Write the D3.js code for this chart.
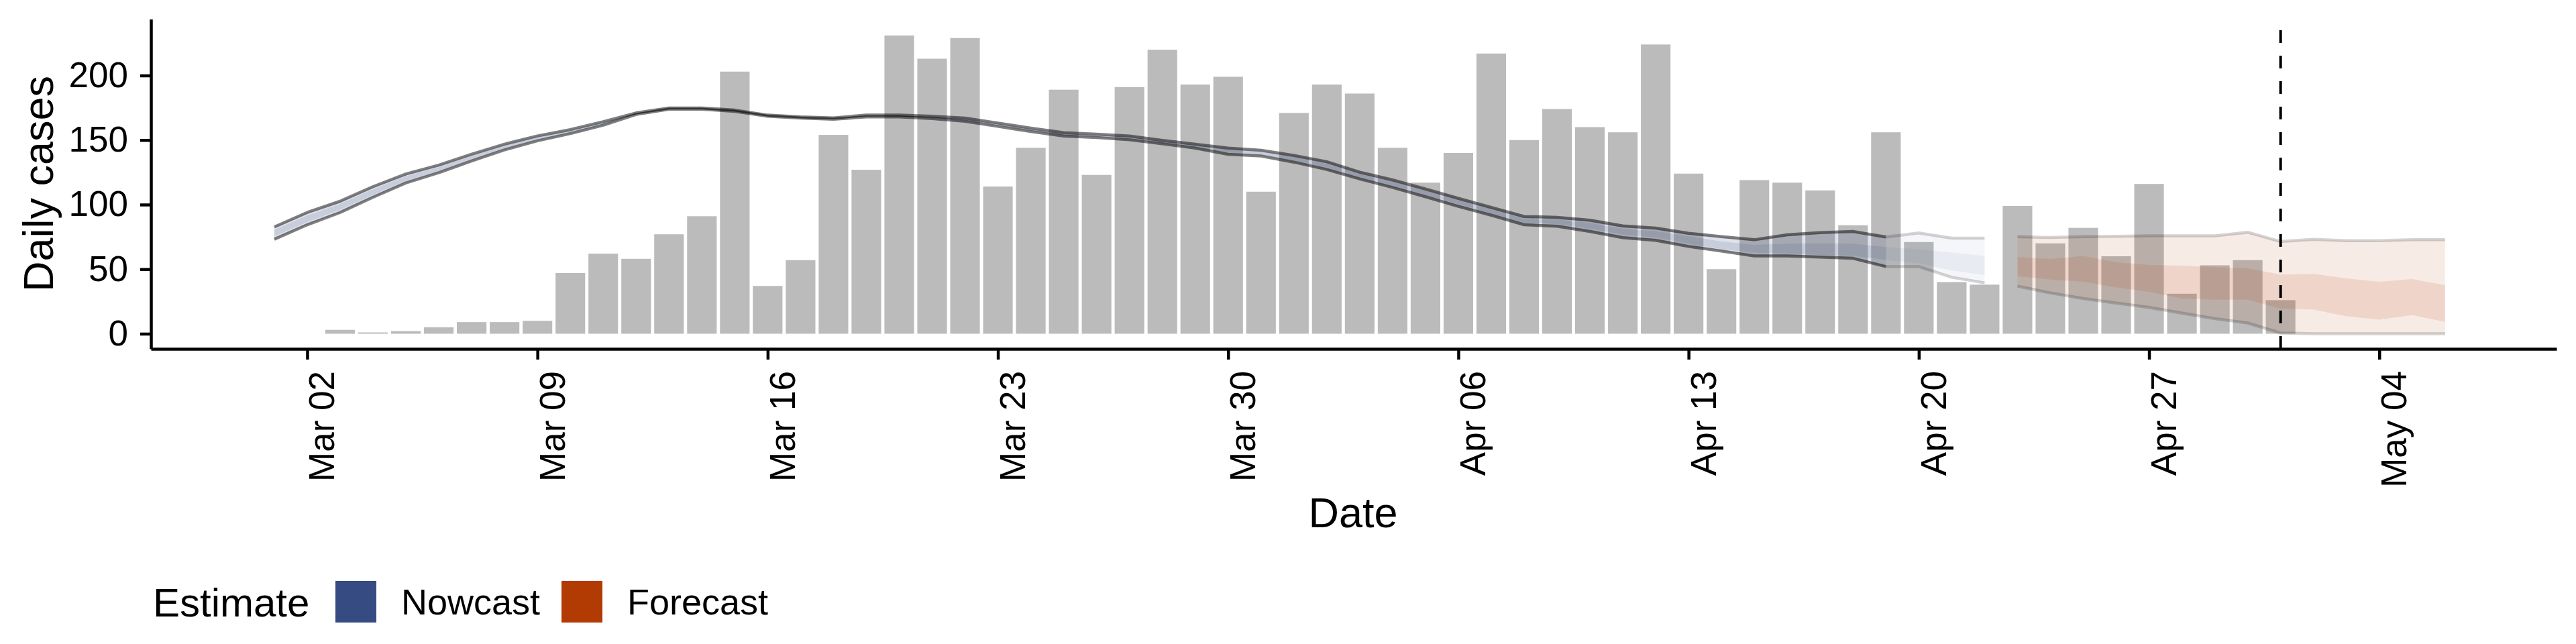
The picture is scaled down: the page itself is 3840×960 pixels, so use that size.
<!DOCTYPE html>
<html><head><meta charset="utf-8">
<script src="https://cdn.jsdelivr.net/npm/d3@7"></script>
<style>
body{margin:0;background:#fff}
svg{display:block}
text{font-family:"Liberation Sans",Arial,Helvetica,sans-serif;fill:#000}
</style>
</head><body>
<svg id="chart" width="3840" height="960"></svg>
<script>
// ---------------- DATA ----------------
const caseStart = "2020-03-03";
const dailyCases = [3,1,2,5,9,9,10,47,62,58,77,91,203,37,57,154,127,231,213,229,114,144,189,123,191,220,193,199,110,
  171,193,186,144,117,140,217,150,174,160,156,224,124,50,119,117,111,84,156,71,40,38,99,70,82,60,116,31,53,57,26];

const nowcastStart = "2020-03-01";
const partialFrom = "2020-04-19";
const nowUpper90 = [82.7,93.9,102.6,113.9,123.7,130.6,139.0,146.8,153.2,158.1,164.2,171.0,174.8,174.8,173.2,169.3,167.9,167.2,169.3,169.3,168.4,167.0,163.2,159.2,155.7,154.5,153.1,149.7,146.8,143.8,142.1,
  138.1,133.2,125.1,119.1,112.1,104.8,97.8,90.8,90.1,87.9,83.5,81.8,77.8,75.2,72.8,76.6,78.3,79.2,74.9,78.0,74.0,74.0];
const nowLower90 = [73.2,84.4,93.9,105.7,116.8,124.7,133.8,142.4,149.4,155.0,161.5,169.8,173.9,173.9,172.2,168.4,167.0,166.1,167.9,167.9,166.6,164.6,160.6,156.6,153.1,151.9,150.2,147.1,143.8,139.0,137.7,
  132.9,127.2,119.9,113.3,106.1,98.6,91.8,84.4,83.2,79.2,74.4,72.3,67.6,64.0,60.2,60.2,59.3,58.4,52.0,52.0,43.7,39.4];
const nowUpper50 = [80.5,91.5,100.5,112.0,122.0,129.0,137.7,145.7,152.2,157.3,163.5,170.7,174.6,174.6,173.0,169.1,167.7,166.9,168.9,168.9,168.0,166.4,162.6,158.6,155.0,153.8,152.4,149.0,146.0,142.6,141.0,
  136.8,131.7,123.8,117.6,110.6,103.2,96.3,89.2,88.4,85.7,81.2,79.5,75.5,71.4,68.8,69.7,70.0,69.7,67.1,65.4,62.8,60.2];
const nowLower50 = [75.5,86.5,96.0,107.5,118.5,126.0,135.0,143.5,150.4,155.8,162.2,170.1,174.1,174.1,172.4,168.6,167.2,166.4,168.3,168.3,167.0,165.2,161.2,157.2,153.7,152.5,150.9,147.8,144.6,140.2,138.8,
  134.2,128.7,121.2,114.8,107.6,100.2,93.3,86.0,84.9,81.4,76.7,74.5,69.8,65.4,62.8,62.0,61.1,60.2,57.2,54.6,48.9,45.5];

const forecastStart = "2020-04-23";
const fcUpper90 = [75.2,74.5,75.2,75.4,75.8,75.8,75.8,78.6,71.4,73.1,72.1,72.1,72.8,72.8];
const fcLower90 = [36.8,31.6,27.3,23.8,20.4,16.0,11.7,8.3,0.5,0,0,0,0,0];
const fcUpper50 = [59.3,57.9,60.2,55.5,53.2,52.7,51.5,50.6,45.8,46.3,42.9,40.3,42.3,37.7];
const fcLower50 = [44.6,42.0,40.3,35.9,32.5,27.3,26.4,26.4,19.5,18.7,13.5,10.9,14.4,9.2];

const yTicks = [0,50,100,150,200];
const xTickDates = ["2020-03-02","2020-03-09","2020-03-16","2020-03-23","2020-03-30","2020-04-06","2020-04-13","2020-04-20","2020-04-27","2020-05-04"];
const estimateDate = "2020-05-01";
const legendTitle = "Estimate";
const legendLabels = ["Nowcast","Forecast"];
const legendColors = ["#364b82","#b23a03"];

// ---------------- SETUP ----------------
const parse = d3.utcParse("%Y-%m-%d");
const DAY = 864e5;
const svg = d3.select("#chart");
const ref = parse("2020-03-02");
const x = d3.scaleUtc()
  .domain([new Date(+ref - 4.752*DAY), new Date(+ref + 68.39*DAY)])
  .range([225, 3811]);
const y = d3.scaleLinear().domain([-11.7, 243.6]).range([520, 28.6]);

const cases = dailyCases.map((v,i)=>({date:d3.utcDay.offset(parse(caseStart), i), value:v}));
const nowcast = nowUpper90.map((v,i)=>({date:d3.utcDay.offset(parse(nowcastStart), i),
  u90:v, l90:nowLower90[i], u50:nowUpper50[i], l50:nowLower50[i]}));
const forecast = fcUpper90.map((v,i)=>({date:d3.utcDay.offset(parse(forecastStart), i),
  u90:v, l90:fcLower90[i], u50:fcUpper50[i], l50:fcLower50[i]}));
const pf = +parse(partialFrom);
const estimate = nowcast.filter(d => +d.date <= pf);
const partial = nowcast.filter(d => +d.date >= pf);

// bars
const bw = 0.9*(x(d3.utcDay.offset(ref,1)) - x(ref));
svg.append("g").selectAll("rect").data(cases).join("rect")
  .attr("x", d => x(d.date) - bw/2)
  .attr("width", bw)
  .attr("y", d => y(d.value))
  .attr("height", d => y(0) - y(d.value))
  .attr("fill", "#bbbbbb");

// ribbons
function ribbon(data, color, a90, a50, lineOp){
  const g = svg.append("g");
  g.append("path").datum(data)
    .attr("d", d3.area().x(d=>x(d.date)).y0(d=>y(d.l90)).y1(d=>y(d.u90)))
    .attr("fill", color).attr("fill-opacity", a90);
  g.append("path").datum(data)
    .attr("d", d3.area().x(d=>x(d.date)).y0(d=>y(d.l50)).y1(d=>y(d.u50)))
    .attr("fill", color).attr("fill-opacity", a50);
  ["u90","l90"].forEach(k=>{
    g.append("path").datum(data)
      .attr("d", d3.line().x(d=>x(d.date)).y(d=>y(d[k])))
      .attr("fill","none").attr("stroke","#000").attr("stroke-opacity", lineOp)
      .attr("stroke-width", 4.5).attr("stroke-linejoin","round");
  });
}
ribbon(estimate, legendColors[0], 0.16, 0.14, 0.5);
ribbon(partial, legendColors[0], 0.05, 0.06, 0.17);
ribbon(forecast, legendColors[1], 0.1, 0.12, 0.17);

// dashed vertical line at estimate date
svg.append("line")
  .attr("x1", x(parse(estimateDate))).attr("x2", x(parse(estimateDate)))
  .attr("y1", 520).attr("y2", 28.6)
  .attr("stroke","#000").attr("stroke-width",4).attr("stroke-dasharray","19,19");

// axes
const yAxis = svg.append("g").attr("transform","translate(225,0)")
  .call(d3.axisLeft(y).tickValues(yTicks).tickSize(16).tickSizeOuter(0).tickPadding(18));
const xAxis = svg.append("g").attr("transform","translate(0,520)")
  .call(d3.axisBottom(x).tickValues(xTickDates.map(parse)).tickFormat(d3.utcFormat("%b %d"))
        .tickSize(16).tickSizeOuter(0));
[yAxis, xAxis].forEach(g=>{
  g.attr("font-family", null).attr("font-size", null);
  g.selectAll("path, line").attr("stroke","#000").attr("stroke-width",4.5);
  g.selectAll("text").attr("font-size",53).attr("fill","#000");
});
xAxis.selectAll("text")
  .attr("transform","rotate(-90)")
  .attr("x",-33).attr("y",40).attr("dy",0)
  .attr("text-anchor","end");

// axis titles
svg.append("text").attr("transform","translate(79,274) rotate(-90)")
  .attr("text-anchor","middle").attr("font-size",63).text("Daily cases");
svg.append("text").attr("x",2017).attr("y",786)
  .attr("text-anchor","middle").attr("font-size",63).text("Date");

// legend
const lg = svg.append("g");
lg.append("text").attr("x",228).attr("y",919).attr("font-size",60).text(legendTitle);
const legendX = [500, 837];
legendLabels.forEach((lab,i)=>{
  lg.append("rect").attr("x",legendX[i]).attr("y",866).attr("width",61).attr("height",62)
    .attr("fill",legendColors[i]);
  lg.append("text").attr("x",legendX[i]+98).attr("y",916).attr("font-size",54).text(lab);
});
</script>
</body></html>
